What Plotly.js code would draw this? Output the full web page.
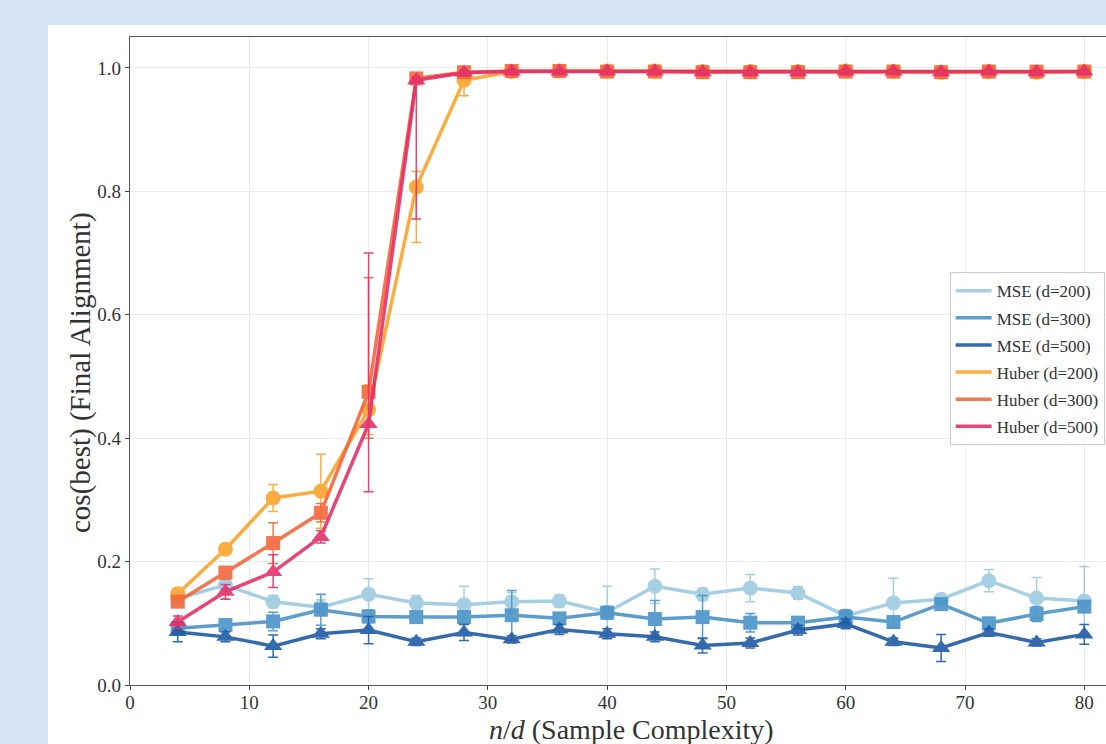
<!DOCTYPE html>
<html>
<head>
<meta charset="utf-8">
<script src="https://cdn.plot.ly/plotly-3.0.1.min.js"></script>
<style>
  html, body { margin: 0; padding: 0; width: 1106px; height: 744px; overflow: hidden; background: #d5e5f3; }
  #panel { position: absolute; left: 48px; top: 25px; width: 1150px; height: 780px; background: #ffffff; }
</style>
</head>
<body>
<div id="panel"><div id="chart"></div></div>
<script>
// ---- data ----
const nOverD = [4, 8, 12, 16, 20, 24, 28, 32, 36, 40, 44, 48, 52, 56, 60, 64, 68, 72, 76, 80];

const mse200 = [0.140, 0.162, 0.135, 0.126, 0.147, 0.133, 0.130, 0.135, 0.136, 0.118, 0.160, 0.147, 0.157, 0.149, 0.112, 0.133, 0.139, 0.169, 0.141, 0.136];
const mse200Err = [0.010, 0.022, 0.010, 0.012, 0.025, 0.012, 0.030, 0.015, 0.010, 0.042, 0.028, 0.010, 0.022, 0.010, 0.008, 0.040, 0.008, 0.018, 0.033, 0.056];

const mse300 = [0.092, 0.097, 0.103, 0.122, 0.111, 0.110, 0.110, 0.113, 0.108, 0.117, 0.107, 0.110, 0.101, 0.101, 0.110, 0.102, 0.131, 0.100, 0.115, 0.127];
const mse300Err = [0.008, 0.010, 0.015, 0.025, 0.010, 0.008, 0.010, 0.040, 0.008, 0.010, 0.030, 0.035, 0.015, 0.008, 0.012, 0.008, 0.008, 0.008, 0.012, 0.008];

const mse500 = [0.086, 0.078, 0.063, 0.083, 0.089, 0.070, 0.085, 0.074, 0.090, 0.083, 0.078, 0.064, 0.068, 0.089, 0.099, 0.070, 0.060, 0.085, 0.069, 0.082];
const mse500Err = [0.016, 0.008, 0.018, 0.008, 0.022, 0.006, 0.013, 0.006, 0.008, 0.008, 0.008, 0.012, 0.008, 0.008, 0.008, 0.006, 0.022, 0.006, 0.006, 0.016];

const huber200 = [0.148, 0.220, 0.303, 0.314, 0.446, 0.807, 0.980, 0.994, 0.995, 0.995, 0.995, 0.994, 0.994, 0.994, 0.995, 0.994, 0.993, 0.994, 0.993, 0.994];
const huber200ErrPlus  = [0.008, 0.008, 0.022, 0.060, 0.040, 0.025, 0.006, 0.003, 0.003, 0.003, 0.003, 0.003, 0.003, 0.003, 0.003, 0.003, 0.003, 0.003, 0.003, 0.003];
const huber200ErrMinus = [0.008, 0.008, 0.022, 0.060, 0.040, 0.090, 0.025, 0.003, 0.003, 0.003, 0.003, 0.003, 0.003, 0.003, 0.003, 0.003, 0.003, 0.003, 0.003, 0.003];

const huber300 = [0.135, 0.182, 0.230, 0.279, 0.475, 0.983, 0.993, 0.995, 0.995, 0.994, 0.994, 0.993, 0.993, 0.993, 0.994, 0.994, 0.993, 0.994, 0.994, 0.994];
const huber300ErrPlus  = [0.008, 0.010, 0.033, 0.015, 0.185, 0.006, 0.004, 0.003, 0.003, 0.003, 0.003, 0.003, 0.003, 0.003, 0.003, 0.003, 0.003, 0.003, 0.003, 0.003];
const huber300ErrMinus = [0.008, 0.010, 0.033, 0.015, 0.075, 0.006, 0.004, 0.003, 0.003, 0.003, 0.003, 0.003, 0.003, 0.003, 0.003, 0.003, 0.003, 0.003, 0.003, 0.003];

const huber500 = [0.102, 0.151, 0.183, 0.240, 0.423, 0.980, 0.992, 0.994, 0.994, 0.994, 0.994, 0.993, 0.993, 0.993, 0.994, 0.994, 0.993, 0.994, 0.993, 0.994];
const huber500ErrPlus  = [0.010, 0.012, 0.028, 0.010, 0.277, 0.005, 0.004, 0.003, 0.003, 0.003, 0.003, 0.003, 0.003, 0.003, 0.003, 0.003, 0.003, 0.003, 0.003, 0.003];
const huber500ErrMinus = [0.010, 0.012, 0.025, 0.010, 0.110, 0.225, 0.004, 0.003, 0.003, 0.003, 0.003, 0.003, 0.003, 0.003, 0.003, 0.003, 0.003, 0.003, 0.003, 0.003];

const seriesNames = ["MSE (d=200)", "MSE (d=300)", "MSE (d=500)", "Huber (d=200)", "Huber (d=300)", "Huber (d=500)"];
const xTickVals = [0, 10, 20, 30, 40, 50, 60, 70, 80];
const yTickVals = [0.0, 0.2, 0.4, 0.6, 0.8, 1.0];
const xTitle = "<i>n</i>/<i>d</i> (Sample Complexity)";
const yTitle = "cos(best) (Final Alignment)";

// ---- styling ----
const colors = ["#9ecae1", "#4a93c8", "#1f5aa6", "#fba42a", "#f4683b", "#e5306a"];
const symbols = ["circle", "square", "triangle-up", "circle", "square", "triangle-up"];
const sizes = [15, 14, 16, 15, 14, 16];
const ys = [mse200, mse300, mse500, huber200, huber300, huber500];
const errPlus = [mse200Err, mse300Err, mse500Err, huber200ErrPlus, huber300ErrPlus, huber500ErrPlus];
const errMinus = [mse200Err, mse300Err, mse500Err, huber200ErrMinus, huber300ErrMinus, huber500ErrMinus];

const traces = [];
for (let i = 0; i < 6; i++) {
  traces.push({
    x: nOverD, y: ys[i], type: "scatter", mode: "lines+markers",
    name: seriesNames[i], showlegend: false, opacity: 0.9,
    line: { color: colors[i], width: 3.5 },
    marker: { color: colors[i], symbol: symbols[i], size: sizes[i], line: { width: 0 } },
    error_y: { type: "data", symmetric: false, array: errPlus[i], arrayminus: errMinus[i],
               color: colors[i], thickness: 1.5, width: 5 }
  });
}
// legend-only entries (lines without markers, like the reference)
for (let i = 0; i < 6; i++) {
  traces.push({
    x: [null], y: [null], type: "scatter", mode: "lines", name: seriesNames[i],
    legendgroup: "g" + i, line: { color: colors[i], width: 3.5 }, opacity: 0.9
  });
}

const font = "Liberation Serif, Times New Roman, serif";
const layout = {
  width: 1150, height: 780,
  margin: { l: 82, r: 66, t: 12, b: 120 },
  paper_bgcolor: "#ffffff", plot_bgcolor: "#ffffff",
  font: { family: font, color: "#222", size: 19 },
  xaxis: {
    range: [0, 84], tickvals: xTickVals, ticks: "outside", ticklen: 4, tickcolor: "#444",
    ticklabelstandoff: -4,
    showgrid: true, gridcolor: "#ebebeb", gridwidth: 1, zeroline: false,
    showline: true, linecolor: "#555", linewidth: 1.2, mirror: true,
    tickfont: { family: font, size: 19, color: "#333" }
  },
  yaxis: {
    range: [0, 1.05], tickvals: yTickVals, tickformat: ".1f", ticks: "outside", ticklen: 4, tickcolor: "#444",
    showgrid: true, gridcolor: "#ebebeb", gridwidth: 1, zeroline: false,
    showline: true, linecolor: "#555", linewidth: 1.2, mirror: true,
    tickfont: { family: font, size: 19, color: "#333" }
  },
  annotations: [
    { text: xTitle, xref: "paper", yref: "paper", x: 0.5, y: 0, xanchor: "center", yanchor: "middle",
      yshift: -44, showarrow: false, font: { family: font, size: 28, color: "#333" } },
    { text: yTitle, xref: "paper", yref: "paper", x: 0, y: 0.5, xanchor: "center", yanchor: "middle",
      xshift: -50, yshift: -12, textangle: -90, showarrow: false, font: { family: font, size: 29, color: "#333" } }
  ],
  legend: {
    x: 0.818, y: 0.637, xanchor: "left", yanchor: "top",
    bgcolor: "rgba(255,255,255,0.9)", bordercolor: "#cccccc", borderwidth: 1,
    font: { family: font, size: 17, color: "#333" },
    traceorder: "grouped", tracegroupgap: 2, itemwidth: 36
  },
  showlegend: true
};

Plotly.newPlot("chart", traces, layout, { displayModeBar: false, staticPlot: true });
</script>
</body>
</html>
